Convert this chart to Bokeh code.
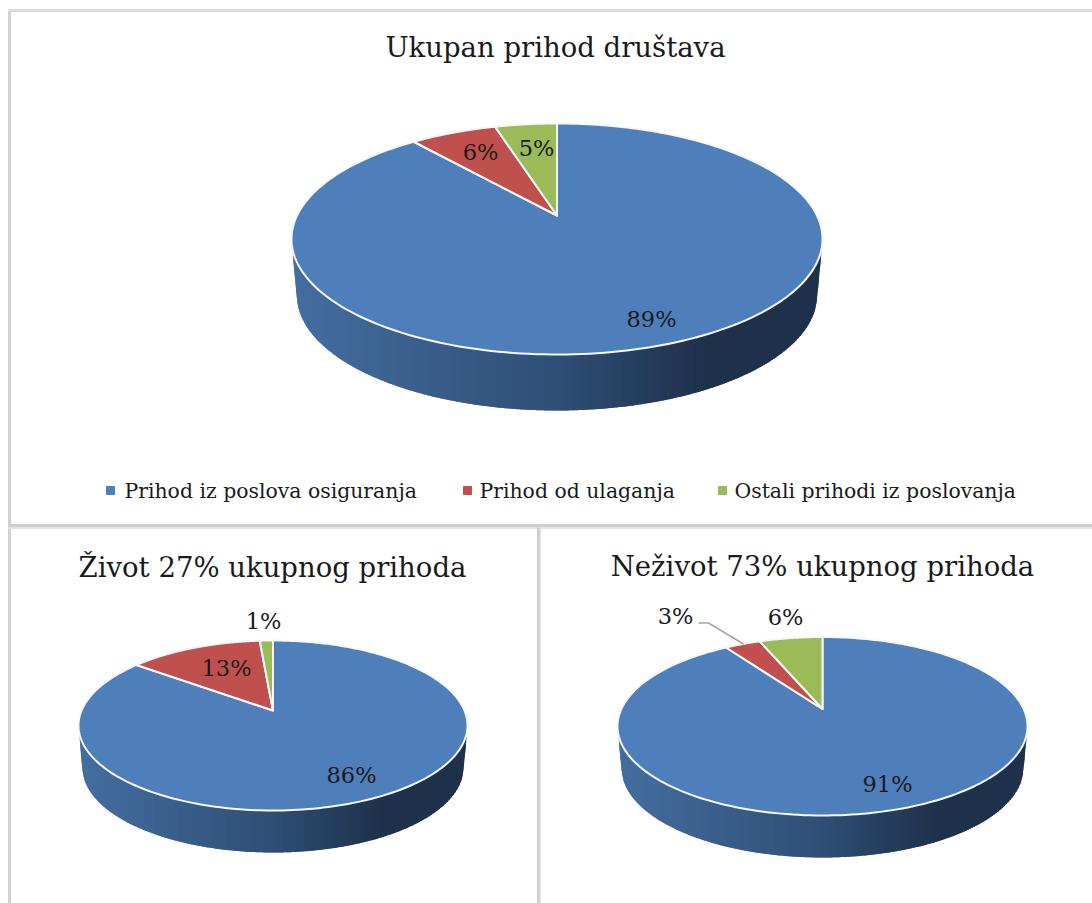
import numpy as np
from bokeh.plotting import figure
from bokeh.models import Range1d
from bokeh.core.properties import value
from bokeh.embed import file_html
from bokeh.resources import INLINE

# ---- data (slice sizes estimated; labels show them rounded) ----
categories = ["Prihod iz poslova osiguranja", "Prihod od ulaganja", "Ostali prihodi iz poslovanja"]
total_share = [89.0, 6.4, 4.6]
life_share = [85.5, 13.2, 1.3]
nonlife_share = [90.6, 3.4, 6.0]
title_total = "Ukupan prihod društava"
title_life = "Život 27% ukupnog prihoda"
title_nonlife = "Neživot 73% ukupnog prihoda"

# ---- layout and style ----
W, H = 1092, 903
SERIF = value("DejaVu Serif")
COLORS = ["#4e7fbb", "#c0504d", "#9bbb59"]
GRAD = [(0.0, (68, 110, 160)), (0.5, (47, 78, 118)), (0.78, (30, 49, 74)), (1.0, (30, 49, 74))]
TEXT = "#1a1a1a"

pies = [
    dict(vals=total_share, title=title_total, tx=555, ty=46, ts=27.5,
         ax=556.5, ay=215, top=123, bottom=354, halfw=265.5, depth=56, shrink=0.98,
         labels=[(651, 318), (480, 151), (536, 147)]),
    dict(vals=life_share, title=title_life, tx=272, ty=566, ts=27.5,
         ax=272.5, ay=710, top=640, bottom=810, halfw=194.5, depth=42, shrink=0.98,
         labels=[(351, 774), (226, 667), (263, 620)]),
    dict(vals=nonlife_share, title=title_nonlife, tx=822, ty=565, ts=27.5,
         ax=822, ay=708.5, top=636.5, bottom=815, halfw=205, depth=42, shrink=0.98,
         labels=[(887, 783), (675, 615), (785, 616)]),
]

p = figure(width=W, height=H, output_backend="svg", toolbar_location=None,
           x_range=Range1d(0, W), y_range=Range1d(H, 0), min_border=0)
p.xaxis.visible = False
p.yaxis.visible = False
p.grid.visible = False
p.outline_line_color = None
p.background_fill_color = "#ffffff"

# panel frame
p.line([9, 9], [10, H], line_color="#d2d2d2", line_width=3)
p.line([8, W], [10, 10], line_color="#dcdcdc", line_width=3)
p.line([8, W], [525, 525], line_color="#cfcfcf", line_width=3)
p.line([8, W], [527.5, 527.5], line_color="#e6e6e6", line_width=2)
p.line([538, 538], [527, H], line_color="#cfcfcf", line_width=3)
p.line([540, 540], [527, H], line_color="#e6e6e6", line_width=1.5)


def gradient(t):
    for (t0, c0), (t1, c1) in zip(GRAD[:-1], GRAD[1:]):
        if t <= t1:
            f = (t - t0) / (t1 - t0)
            return "#%02x%02x%02x" % tuple(int(round(a + (b - a) * f)) for a, b in zip(c0, c1))
    return "#1e314a"


def lower_hull(ex, ey):
    """Lower silhouette (largest y on screen) of a point cloud, left to right."""
    order = np.lexsort((-ey, ex))
    hull = []
    for q in zip(ex[order], ey[order]):
        while len(hull) >= 2:
            (x1, y1), (x2, y2) = hull[-2], hull[-1]
            if (x2 - x1) * (q[1] - y1) - (y2 - y1) * (q[0] - x1) >= 0:
                hull.pop()
            else:
                break
        hull.append(q)
    return np.array(hull)


for d in pies:
    up = d["ay"] - d["top"]
    dn = d["bottom"] - d["ay"]
    k = (dn - up) / (dn + up)
    by = up * (1 + k)
    bx = d["halfw"] * np.sqrt(1 - k * k)

    def proj(th):
        w = 1 + k * np.cos(th)
        return d["ax"] + bx * np.sin(th) / w, d["ay"] - by * np.cos(th) / w

    # side wall: shaded strips down to the silhouette of the rim and the lower disc
    cx = d["ax"]
    cy = (d["top"] + d["bottom"]) / 2
    b_ell = (d["bottom"] - d["top"]) / 2
    a_low = d["halfw"] * d["shrink"]
    t = np.linspace(0, np.pi, 400)
    hx = np.r_[d["halfw"] * np.cos(t), a_low * np.cos(t)]
    hy = np.r_[b_ell * np.sin(t), d["depth"] + b_ell * np.sin(t)]
    hull = lower_hull(hx, hy)
    low = lambda e: cy + np.interp(e, hull[:, 0], hull[:, 1])
    a_out = d["halfw"]
    edges = np.arange(-a_out, a_out + 2, 2.0)
    xs, ys, cs = [], [], []
    for e0, e1 in zip(edges[:-1], edges[1:]):
        e1 = min(e1, a_out)
        e2 = min(e1 + 1.5, a_out)
        xs.append([cx + e0, cx + e1, cx + e2, cx + e2, cx + e1, cx + e0])
        ys.append([cy, cy, cy, low(e2), low(e1), low(e0)])
        cs.append(gradient(((e0 + e1) / 2 + a_out) / (2 * a_out)))
    p.patches(xs, ys, fill_color=cs, line_color=None)

    # top face: one slice per category, clockwise from twelve o'clock
    fr = np.cumsum([0] + list(d["vals"])) / sum(d["vals"])
    for i in range(len(d["vals"])):
        th = np.linspace(fr[i], fr[i + 1], 240) * 2 * np.pi
        px, py = proj(th)
        p.patch(np.r_[d["ax"], px], np.r_[d["ay"], py], fill_color=COLORS[i],
                line_color="#f6f8fa", line_width=2, line_join="round")

    # slice labels and title
    lx, ly = zip(*d["labels"])
    p.text(list(lx), list(ly), text=["%d%%" % round(v + 1e-9) for v in d["vals"]], text_font=SERIF,
           text_font_size="22.5px", text_color=TEXT, text_align="center", text_baseline="middle")
    p.text([d["tx"]], [d["ty"]], text=[d["title"]], text_font=SERIF,
           text_font_size="%gpx" % d["ts"], text_color=TEXT, text_align="center", text_baseline="middle")

# leader of the 3% slice
p.line([698, 708, 743], [622.5, 622.5, 643.5], line_color="#a6a6a6", line_width=1.5)

# legend
leg_sq = [110, 467, 722]
leg_tx = [124, 479, 734]
p.scatter(leg_sq, [490] * 3, marker="square", size=8, fill_color=COLORS, line_color=COLORS)
p.text(leg_tx, [490] * 3, text=categories, text_font=SERIF, text_font_size="20.4px",
       text_color=TEXT, text_align="left", text_baseline="middle")

open("out.html", "w").write(file_html(p, INLINE))
